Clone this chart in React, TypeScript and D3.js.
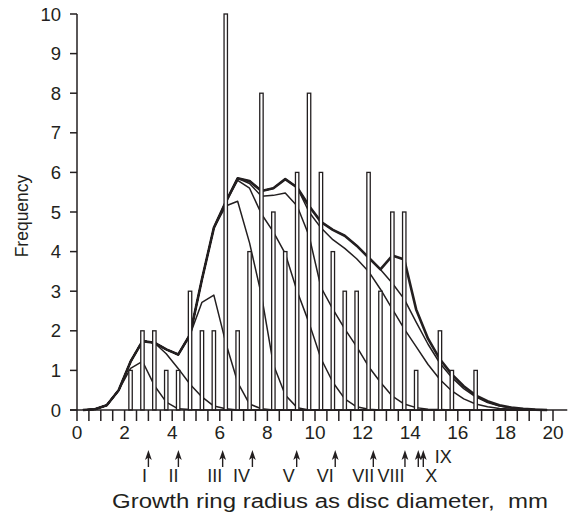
import React from "react";
import * as d3 from "d3";

// Histogram classes (class midpoints, mm) and frequencies
const barMm = [2.25, 2.75, 3.25, 3.75, 4.25, 4.75, 5.25, 5.75, 6.25, 6.75, 7.25, 7.75, 8.25, 8.75, 9.25, 9.75, 10.25, 10.75, 11.25, 11.75, 12.25, 12.75, 13.25, 13.75, 14.25, 14.75, 15.25, 15.75, 16.25, 16.75];
const barCount = [1, 2, 2, 1, 1, 3, 2, 2, 10, 2, 4, 8, 5, 4, 6, 8, 6, 4, 3, 3, 6, 3, 5, 5, 1, 0, 2, 1, 0, 1];

// Grid for the fitted curves (mm)
const gridMm = [0.25, 0.75, 1.25, 1.75, 2.25, 2.75, 3.25, 3.75, 4.25, 4.75, 5.25, 5.75, 6.25, 6.75, 7.25, 7.75, 8.25, 8.75, 9.25, 9.75, 10.25, 10.75, 11.25, 11.75, 12.25, 12.75, 13.25, 13.75, 14.25, 14.75, 15.25, 15.75, 16.25, 16.75, 17.25, 17.75, 18.25, 18.75, 19.25, 19.75];

// Cumulative fitted curves
const curve1 = [0, 0.02, 0.12, 0.5, 1.05, 1.23, 0.62, 0.2, 0.03, 0.01, 0, 0, 0, 0, 0, 0, 0, 0, 0, 0, 0, 0, 0, 0, 0, 0, 0, 0, 0, 0, 0, 0, 0, 0, 0, 0, 0, 0, 0, 0];
const curve2 = [0, 0.02, 0.12, 0.5, 1.22, 1.74, 1.7, 1.42, 1.05, 0.65, 0.33, 0.1, 0.03, 0, 0, 0, 0, 0, 0, 0, 0, 0, 0, 0, 0, 0, 0, 0, 0, 0, 0, 0, 0, 0, 0, 0, 0, 0, 0, 0];
const curve3 = [0, 0.02, 0.12, 0.5, 1.22, 1.74, 1.7, 1.53, 1.4, 1.9, 2.72, 2.9, 1.7, 0.7, 0.15, 0.03, 0, 0, 0, 0, 0, 0, 0, 0, 0, 0, 0, 0, 0, 0, 0, 0, 0, 0, 0, 0, 0, 0, 0, 0];
const curve4 = [0, 0.02, 0.12, 0.5, 1.22, 1.74, 1.7, 1.53, 1.4, 1.9, 3.3, 4.6, 5.15, 5.27, 4.22, 2.9, 1.15, 0.38, 0.06, 0, 0, 0, 0, 0, 0, 0, 0, 0, 0, 0, 0, 0, 0, 0, 0, 0, 0, 0, 0, 0];
const curve5 = [0, 0.02, 0.12, 0.5, 1.22, 1.74, 1.7, 1.53, 1.4, 1.9, 3.3, 4.6, 5.25, 5.8, 5.6, 4.95, 4.5, 3.95, 3.0, 2.2, 1.3, 0.7, 0.28, 0.08, 0.02, 0, 0, 0, 0, 0, 0, 0, 0, 0, 0, 0, 0, 0, 0, 0];
const curve6 = [0, 0.02, 0.12, 0.5, 1.22, 1.74, 1.7, 1.53, 1.4, 1.9, 3.3, 4.6, 5.25, 5.85, 5.72, 5.4, 5.42, 5.48, 5.15, 4.4, 3.1, 2.55, 2.05, 1.6, 1.1, 0.7, 0.35, 0.15, 0.06, 0.02, 0.01, 0, 0, 0, 0, 0, 0, 0, 0, 0];
const curve7 = [0, 0.02, 0.12, 0.5, 1.22, 1.74, 1.7, 1.53, 1.4, 1.9, 3.3, 4.6, 5.25, 5.85, 5.78, 5.53, 5.6, 5.83, 5.62, 5.0, 4.6, 4.3, 4.08, 3.82, 3.5, 3.05, 2.55, 2.05, 1.6, 1.15, 0.77, 0.48, 0.28, 0.15, 0.08, 0.04, 0.02, 0.01, 0, 0];
const curve8 = [0, 0.02, 0.12, 0.5, 1.22, 1.74, 1.7, 1.53, 1.4, 1.9, 3.3, 4.6, 5.25, 5.85, 5.78, 5.53, 5.6, 5.83, 5.62, 5.15, 4.75, 4.55, 4.4, 4.15, 3.85, 3.55, 3.2, 2.8, 2.22, 1.66, 1.18, 0.82, 0.54, 0.33, 0.19, 0.1, 0.05, 0.02, 0.01, 0];
const total = [0, 0.02, 0.12, 0.5, 1.22, 1.74, 1.7, 1.53, 1.4, 1.9, 3.3, 4.6, 5.25, 5.85, 5.78, 5.53, 5.6, 5.83, 5.62, 5.15, 4.75, 4.55, 4.4, 4.15, 3.85, 3.55, 3.9, 3.8, 2.54, 1.8, 1.28, 0.9, 0.6, 0.37, 0.22, 0.12, 0.06, 0.03, 0.01, 0];

// Growth ring marks
const ringNames = ["I", "II", "III", "IV", "V", "VI", "VII", "VIII", "IX", "X"];
const ringMm = [3.0, 4.26, 6.12, 7.37, 9.23, 10.85, 12.45, 13.78, 14.34, 14.55];

const xTicks = [0, 2, 4, 6, 8, 10, 12, 14, 16, 18, 20];
const xMinorTicks = [0, 0.5, 1, 1.5, 2, 2.5, 3, 3.5, 4, 4.5, 5, 5.5, 6, 6.5, 7, 7.5, 8, 8.5, 9, 9.5, 10, 10.5, 11, 11.5, 12, 12.5, 13, 13.5, 14, 14.5, 15, 15.5, 16, 16.5, 17, 17.5, 18, 18.5, 19, 19.5, 20];
const yTicks = [0, 1, 2, 3, 4, 5, 6, 7, 8, 9, 10];

// layout offsets for ring labels (px): [dx, row]
const labelDx = [-4, -5, -8, -11, -8, -10, -10, -14, 25, 8];
const labelRow = [1, 1, 1, 1, 1, 1, 1, 1, 0, 1];

const INK = "#231f20";
const FONT = "'Liberation Sans', Arial, Helvetica, sans-serif";

export default function App() {
  const x = d3.scaleLinear().domain([0, 20]).range([77, 553]);
  const y = d3.scaleLinear().domain([0, 10]).range([410, 14]);
  const line = d3
    .line<[number, number]>()
    .x((d) => x(d[0]))
    .y((d) => y(d[1]));
  const mk = (vals: number[]) => line(gridMm.map((m, i) => [m, vals[i]] as [number, number])) || "";
  const thin = [curve1, curve2, curve3, curve4, curve5, curve6, curve7, curve8];
  const barW = 3.4;

  return (
    <svg
      width={580}
      height={518}
      style={{ position: "absolute", left: 0, top: 0, background: "#fff" }}
      fontFamily={FONT}
    >
      {/* curves */}
      {thin.map((c, i) => (
        <path key={i} d={mk(c)} fill="none" stroke={INK} strokeWidth={1.5} strokeLinejoin="round" />
      ))}
      <path d={mk(total)} fill="none" stroke={INK} strokeWidth={2.6} strokeLinejoin="round" />

      {/* bars */}
      {barMm.map((m, i) =>
        barCount[i] > 0 ? (
          <rect
            key={i}
            x={x(m) - barW / 2}
            y={y(barCount[i])}
            width={barW}
            height={y(0) - y(barCount[i])}
            fill="#fff"
            stroke={INK}
            strokeWidth={1.3}
          />
        ) : null
      )}

      {/* y axis */}
      <line x1={x(0)} x2={x(0)} y1={y(0)} y2={y(10)} stroke={INK} strokeWidth={1.5} />
      {yTicks.map((t) => (
        <g key={t}>
          <line x1={x(0) - 7} x2={x(0)} y1={y(t)} y2={y(t)} stroke={INK} strokeWidth={1.5} />
          <text x={x(0) - 16} y={y(t)} dy="0.36em" textAnchor="end" fontSize={18.5} fill={INK}>
            {t}
          </text>
        </g>
      ))}
      <text
        transform={`translate(22,216) rotate(-90)`}
        textAnchor="middle"
        dy="0.36em"
        fontSize={17.5}
        fill={INK}
      >
        Frequency
      </text>

      {/* x axis */}
      <line x1={x(0) - 7} x2={x(20.6)} y1={y(0)} y2={y(0)} stroke={INK} strokeWidth={1.5} />
      {xMinorTicks.map((t) => (
        <line key={t} x1={x(t)} x2={x(t)} y1={y(0)} y2={y(0) + 11} stroke={INK} strokeWidth={1.5} />
      ))}
      {xTicks.map((t) => (
        <text key={t} x={x(t)} y={439} textAnchor="middle" fontSize={19} fill={INK}>
          {t}
        </text>
      ))}

      {/* ring arrows */}
      {ringMm.map((m, i) => {
        const ax = x(m);
        return (
          <g key={i}>
            <line x1={ax} x2={ax} y1={456} y2={467} stroke={INK} strokeWidth={1.4} />
            <path d={`M${ax},450 L${ax + 3.4},460 L${ax},457.5 L${ax - 3.4},460 Z`} fill={INK} />
            <text
              x={ax + labelDx[i]}
              y={labelRow[i] === 1 ? 482 : 463}
              textAnchor="middle"
              fontSize={18}
              fill={INK}
            >
              {ringNames[i]}
            </text>
          </g>
        );
      })}

      <text
        x={112}
        y={508}
        fontSize={20}
        fill={INK}
        textLength={436}
        lengthAdjust="spacingAndGlyphs"
        style={{ whiteSpace: "pre" }}
      >
        {"Growth ring radius as disc diameter,  mm"}
      </text>
    </svg>
  );
}
